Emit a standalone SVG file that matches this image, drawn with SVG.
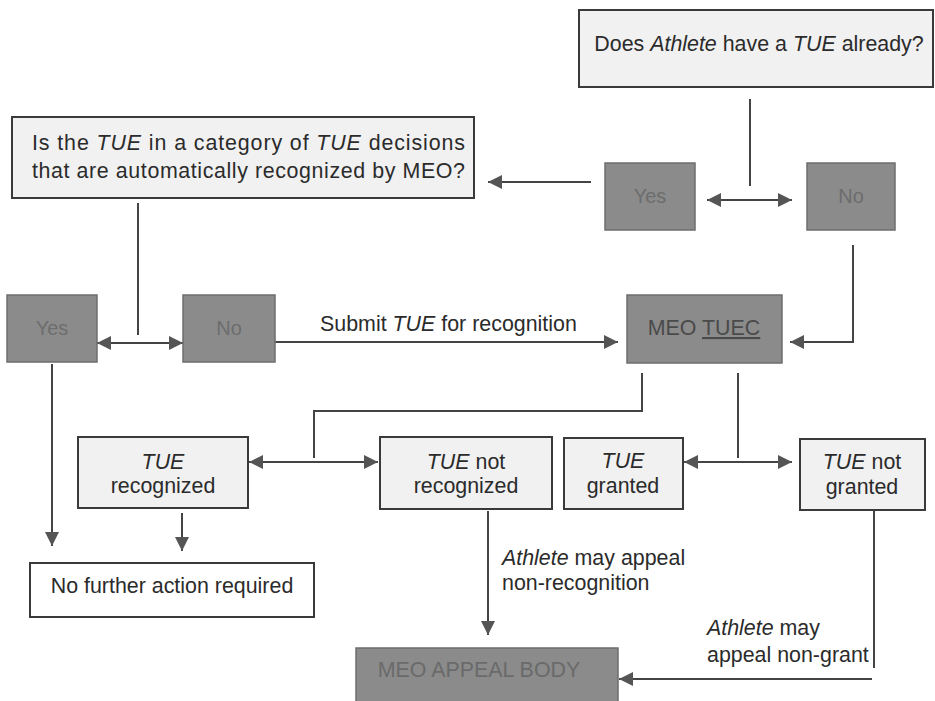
<svg xmlns="http://www.w3.org/2000/svg" width="935" height="701" viewBox="0 0 935 701">
<defs>
<style>
text{font-family:"Liberation Sans",Arial,sans-serif;font-size:21.4px;fill:#2b2b2b}
.it{font-style:italic}
.light{fill:#f1f1f1;stroke:#3a3a3a;stroke-width:2}
.dark{fill:#8b8b8b;stroke:#6e6e6e;stroke-width:1.5}
.dt{fill:#6d6d6d;font-size:20px}
.ln{fill:none;stroke:#444;stroke-width:2}
.mid{text-anchor:middle}
</style>
<marker id="ah" markerUnits="userSpaceOnUse" markerWidth="14" markerHeight="14" refX="14" refY="7" orient="auto-start-reverse">
<path d="M0,0 L14,7 L0,14 z" fill="#555"/>
</marker>
</defs>
<rect width="935" height="701" fill="#ffffff"/>

<g id="connectors">
<line class="ln" x1="750" y1="99" x2="750" y2="186"/>
<line class="ln" x1="707" y1="200" x2="792" y2="200" marker-start="url(#ah)" marker-end="url(#ah)"/>
<line class="ln" x1="591" y1="182" x2="488" y2="182" marker-end="url(#ah)"/>
<polyline class="ln" points="853,245 853,342 790,342" marker-end="url(#ah)"/>
<line class="ln" x1="138" y1="203" x2="138" y2="335"/>
<line class="ln" x1="97" y1="343" x2="183" y2="343" marker-start="url(#ah)" marker-end="url(#ah)"/>
<line class="ln" x1="275" y1="342" x2="618" y2="342" marker-end="url(#ah)"/>
<polyline class="ln" points="642,373 642,411 314,411 314,458"/>
<line class="ln" x1="249" y1="462" x2="378" y2="462" marker-start="url(#ah)" marker-end="url(#ah)"/>
<line class="ln" x1="738" y1="373" x2="738" y2="458"/>
<line class="ln" x1="684" y1="462" x2="792" y2="462" marker-start="url(#ah)" marker-end="url(#ah)"/>
<line class="ln" x1="182" y1="513" x2="182" y2="551" marker-end="url(#ah)"/>
<line class="ln" x1="52" y1="364" x2="52" y2="546" marker-end="url(#ah)"/>
<line class="ln" x1="488" y1="511" x2="488" y2="635" marker-end="url(#ah)"/>
<line class="ln" x1="874" y1="511" x2="874" y2="668"/>
<line class="ln" x1="872" y1="679" x2="619" y2="679" marker-end="url(#ah)"/>
<text x="320" y="331">Submit <tspan class="it">TUE</tspan> for recognition</text>
<text x="502" y="565"><tspan class="it">Athlete</tspan> may appeal</text>
<text x="502" y="590">non-recognition</text>
<text x="707" y="635"><tspan class="it">Athlete</tspan> may</text>
<text x="707" y="662">appeal non-grant</text>
</g>

<g id="q1">
<rect class="light" x="579" y="10" width="354" height="77"/>
<text class="mid" x="759" y="51">Does <tspan class="it">Athlete</tspan> have a <tspan class="it">TUE</tspan> already?</text>
</g>
<g id="yes1">
<rect class="dark" x="605" y="163" width="90" height="67"/>
<text class="dt mid" x="650" y="203">Yes</text>
</g>
<g id="no1">
<rect class="dark" x="807" y="163" width="88" height="67"/>
<text class="dt mid" x="851" y="203">No</text>
</g>
<g id="q2">
<rect class="light" x="12" y="117" width="462" height="81"/>
<text x="32" y="150" textLength="433" lengthAdjust="spacing">Is the <tspan class="it">TUE</tspan> in a category of <tspan class="it">TUE</tspan> decisions</text>
<text x="32" y="178" textLength="433" lengthAdjust="spacing">that are automatically recognized by MEO?</text>
</g>
<g id="yes2">
<rect class="dark" x="7" y="295" width="90" height="67"/>
<text class="dt mid" x="52" y="335">Yes</text>
</g>
<g id="no2">
<rect class="dark" x="183" y="295" width="92" height="67"/>
<text class="dt mid" x="229" y="335">No</text>
</g>
<g id="tuec">
<rect class="dark" x="627" y="295" width="155" height="68"/>
<text class="mid" x="704" y="335" style="fill:#4a4a4a">MEO <tspan text-decoration="underline">TUEC</tspan></text>
</g>
<g id="recognized">
<rect class="light" x="78" y="437" width="170" height="71"/>
<text class="mid it" x="163" y="469">TUE</text>
<text class="mid" x="163" y="493">recognized</text>
</g>
<g id="notrecognized">
<rect class="light" x="380" y="437" width="172" height="72"/>
<text class="mid" x="466" y="469"><tspan class="it">TUE</tspan> not</text>
<text class="mid" x="466" y="493">recognized</text>
</g>
<g id="granted">
<rect class="light" x="564" y="438" width="119" height="71"/>
<text class="mid it" x="623" y="468">TUE</text>
<text class="mid" x="623" y="493">granted</text>
</g>
<g id="notgranted">
<rect class="light" x="800" y="439" width="125" height="71"/>
<text class="mid" x="862" y="469"><tspan class="it">TUE</tspan> not</text>
<text class="mid" x="862" y="494">granted</text>
</g>
<g id="nofurther">
<rect class="light" x="30" y="563" width="284" height="54" style="fill:#ffffff"/>
<text class="mid" x="172" y="593">No further action required</text>
</g>
<g id="appealbody">
<rect class="dark" x="356" y="648" width="262" height="60"/>
<text class="mid" x="479" y="677" style="fill:#6a6a6a">MEO APPEAL BODY</text>
</g>
</svg>
